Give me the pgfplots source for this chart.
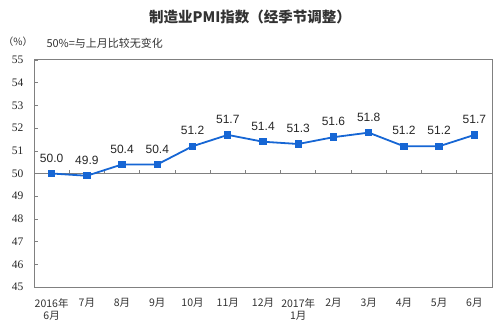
\documentclass[border=0pt]{standalone}
\usepackage{pgfplots}
\pgfplotsset{compat=1.18}
\usepackage{fontspec}
\setmainfont{Liberation Serif}
\newfontfamily\cjk{Noto Sans CJK SC}
\newfontfamily\lsans{Liberation Sans}
\definecolor{pmiblue}{RGB}{22,102,212}
\definecolor{axgray}{RGB}{128,128,128}
\begin{document}
\begin{tikzpicture}[x=1pt,y=1pt]
\useasboundingbox (0,0) rectangle (500,327);
\node[font=\cjk\bfseries\fontsize{14.5}{16}\selectfont,text=black!80] at (250,310) {制造业PMI指数（经季节调整）};
\node[font=\cjk\fontsize{10}{11}\selectfont,text=black!80] at (18,285) {（\%）};
\node[font=\cjk\fontsize{11}{12}\selectfont,text=black!80,anchor=west] at (43,284) {50\%=与上月比较无变化};
\begin{axis}[
  at={(34pt,40pt)}, anchor=south west,
  scale only axis, width=458pt, height=227pt,
  xmin=-0.5, xmax=12.5, ymin=45, ymax=55,
  ytick={45,...,55},
  xtick={0,...,12},
  xticklabels={{2016年\\6月},{7月},{8月},{9月},{10月},{11月},{12月},{2017年\\1月},{2月},{3月},{4月},{5月},{6月}},
  x tick label style={font=\cjk\fontsize{10.5}{12.5}\selectfont,align=center,text=black!80,anchor=north,yshift=-8pt},
  y tick label style={font=\fontsize{11.5}{12}\selectfont,text=black!85,xshift=-7pt},
  axis line style={axgray,line width=1pt},
  xtick style={draw=none},
  ytick style={axgray,line width=0.6pt},
  ytick pos=left,
  tick align=inside,
  major tick length=4pt,
  clip=false,
  /pgf/number format/assume math mode=true,
]
\draw[axgray,line width=1pt] (axis cs:-0.5,50) -- (axis cs:12.5,50);
\pgfplotsinvokeforeach{0.5,1.5,2.5,3.5,4.5,5.5,6.5,7.5,8.5,9.5,10.5,11.5}{
  \draw[axgray,line width=0.8pt] (axis cs:#1,50) -- ([yshift=4pt]axis cs:#1,50);
}
\addplot[pmiblue,line width=1.8pt,mark=square*,mark size=2.8pt,mark options={solid},
  nodes near coords,
  every node near coord/.append style={font=\lsans\fontsize{12}{13}\selectfont,text=black!85,yshift=7pt},
  point meta=explicit symbolic] coordinates {
(0,50.0) [50.0] (1,49.9) [49.9] (2,50.4) [50.4] (3,50.4) [50.4] (4,51.2) [51.2] (5,51.7) [51.7] (6,51.4) [51.4] (7,51.3) [51.3] (8,51.6) [51.6] (9,51.8) [51.8] (10,51.2) [51.2] (11,51.2) [51.2] (12,51.7) [51.7]
};
\end{axis}
\end{tikzpicture}
\end{document}
